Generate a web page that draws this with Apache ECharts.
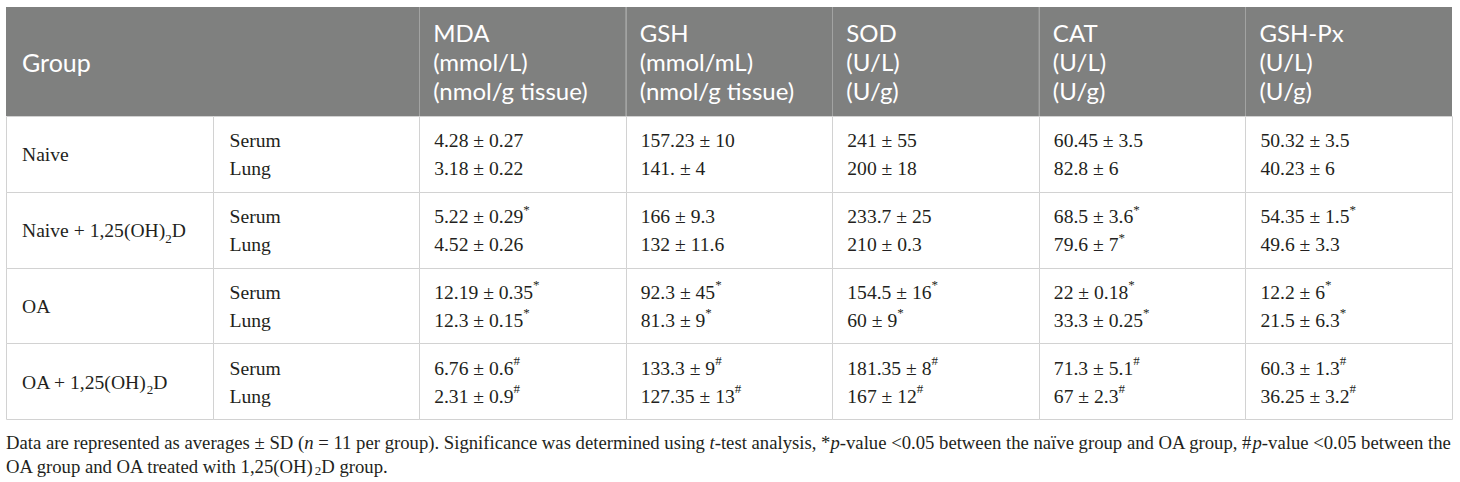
<!DOCTYPE html>
<html>
<head>
<meta charset="utf-8">
<script src="https://cdn.jsdelivr.net/npm/echarts@6/dist/echarts.min.js"></script>
<style>
  html, body { margin: 0; padding: 0; background: #fff; }
  #chart { width: 1460px; height: 482px; }
</style>
</head>
<body>
<div id="chart"></div>
<script>
// table content
const groups = ['Naive', 'Naive + 1,25(OH)2D', 'OA', 'OA + 1,25(OH)2D'];
const samples = ['Serum', 'Lung'];
const markers = ['MDA', 'GSH', 'SOD', 'CAT', 'GSH-Px'];
const serumUnits = ['(mmol/L)', '(mmol/mL)', '(U/L)', '(U/L)', '(U/L)'];
const lungUnits = ['(nmol/g tissue)', '(nmol/g tissue)', '(U/g)', '(U/g)', '(U/g)'];

// per group: serum, lung (mean ± SD, trailing * or # = significance)
const mdaValues = ['4.28 ± 0.27', '3.18 ± 0.22', '5.22 ± 0.29*', '4.52 ± 0.26', '12.19 ± 0.35*', '12.3 ± 0.15*', '6.76 ± 0.6#', '2.31 ± 0.9#'];
const gshValues = ['157.23 ± 10', '141. ± 4', '166 ± 9.3', '132 ± 11.6', '92.3 ± 45*', '81.3 ± 9*', '133.3 ± 9#', '127.35 ± 13#'];
const sodValues = ['241 ± 55', '200 ± 18', '233.7 ± 25', '210 ± 0.3', '154.5 ± 16*', '60 ± 9*', '181.35 ± 8#', '167 ± 12#'];
const catValues = ['60.45 ± 3.5', '82.8 ± 6', '68.5 ± 3.6*', '79.6 ± 7*', '22 ± 0.18*', '33.3 ± 0.25*', '71.3 ± 5.1#', '67 ± 2.3#'];
const gshPxValues = ['50.32 ± 3.5', '40.23 ± 6', '54.35 ± 1.5*', '49.6 ± 3.3', '12.2 ± 6*', '21.5 ± 6.3*', '60.3 ± 1.3#', '36.25 ± 3.2#'];

const footnoteLines = [
  'Data are represented as averages ± SD ({i|n} = 11 per group). Significance was determined using {i|t}-test analysis, *{i|p}-value <0.05 between the naïve group and OA group, #{i|p}-value <0.05 between the',
  'OA group and OA treated with 1,25(OH)2D group.'
];

const valueColumns = [mdaValues, gshValues, sodValues, catValues, gshPxValues];

const SERIF = '"Liberation Serif", "Times New Roman", serif';
const SANS = 'Lato, "Open Sans", sans-serif';
const TEXT_COLOR = '#231f20';
const HEAD_BG = '#7f807f';
const LINE_COLOR = '#d2d2d2';

// turn "(OH)2D" into a subscript and a trailing */# into a superscript
function markup(s) {
  return s.replace(/\(OH\)2D/g, '(OH){sub|2}D').replace(/([*#])$/, '{sup|$1}');
}

const serifRich = {
  sup: { fontFamily: SERIF, fontSize: 13, fill: TEXT_COLOR, verticalAlign: 'top', lineHeight: 20 },
  sub: { fontFamily: SERIF, fontSize: 13, fill: TEXT_COLOR, verticalAlign: 'bottom', lineHeight: 20 },
  i: { fontFamily: SERIF, fontSize: 18.7, fontStyle: 'italic', fill: TEXT_COLOR }
};

// header cells: [x0, x1, text]
const headCells = [[0, 2, 'Group']];
markers.forEach((m, k) => {
  headCells.push([k + 2, k + 3, [m, serumUnits[k], lungUnits[k]].join('\n')]);
});

// body cells: [col, row, text]
const bodyCells = [];
groups.forEach((g, r) => {
  bodyCells.push([0, r, markup(g)]);
  bodyCells.push([1, r, samples.join('\n')]);
  valueColumns.forEach((vals, k) => {
    bodyCells.push([k + 2, r, markup(vals[2 * r]) + '\n' + markup(vals[2 * r + 1])]);
  });
});

const crisp = (v) => Math.round(v) + 0.5;

const chart = echarts.init(document.getElementById('chart'), null, { renderer: 'svg' });

chart.setOption({
  animation: false,
  grid: [
    { left: 6, right: 8, top: 7, height: 109 },
    { left: 6, right: 8, top: 116, height: 303 }
  ],
  xAxis: [
    { gridIndex: 0, type: 'value', min: 0, max: 7, show: false },
    { gridIndex: 1, type: 'value', min: 0, max: 7, show: false }
  ],
  yAxis: [
    { gridIndex: 0, type: 'value', min: 0, max: 1, inverse: true, show: false },
    { gridIndex: 1, type: 'value', min: 0, max: 4, inverse: true, show: false }
  ],
  series: [
    {
      type: 'custom',
      xAxisIndex: 0,
      yAxisIndex: 0,
      data: headCells.map((c) => [c[0], c[1]]),
      renderItem: (params, api) => {
        const cell = headCells[params.dataIndex];
        const p0 = api.coord([cell[0], 0]);
        const p1 = api.coord([cell[1], 1]);
        const children = [
          {
            type: 'rect',
            shape: { x: p0[0], y: p0[1], width: p1[0] - p0[0], height: p1[1] - p0[1] },
            style: { fill: HEAD_BG }
          },
          {
            type: 'text',
            style: {
              text: cell[2],
              x: p0[0] + (cell[0] === 0 ? 16 : 14),
              y: (p0[1] + p1[1]) / 2,
              align: 'left',
              verticalAlign: 'middle',
              fontFamily: SANS,
              fontSize: cell[0] === 0 ? 25 : 24,
              lineHeight: 29,
              fill: '#ffffff'
            }
          }
        ];
        if (cell[0] > 0) {
          children.push({
            type: 'line',
            shape: { x1: crisp(p0[0]), y1: p0[1], x2: crisp(p0[0]), y2: p1[1] },
            style: { stroke: '#a2a3a2', lineWidth: 1 }
          });
        }
        return { type: 'group', children };
      }
    },
    {
      type: 'custom',
      xAxisIndex: 1,
      yAxisIndex: 1,
      data: bodyCells.map((c) => [c[0], c[1]]),
      renderItem: (params, api) => {
        const cell = bodyCells[params.dataIndex];
        const p0 = api.coord([cell[0], cell[1]]);
        const p1 = api.coord([cell[0] + 1, cell[1] + 1]);
        const pad = cell[0] === 0 ? 16 : cell[0] === 1 ? 17 : 15;
        return {
          type: 'group',
          children: [
            {
              type: 'rect',
              shape: {
                x: crisp(p0[0]), y: crisp(p0[1]),
                width: Math.round(p1[0]) - Math.round(p0[0]),
                height: Math.round(p1[1]) - Math.round(p0[1])
              },
              style: { fill: '#ffffff', stroke: LINE_COLOR, lineWidth: 1 }
            },
            {
              type: 'text',
              style: {
                text: cell[2],
                x: p0[0] + pad,
                y: (p0[1] + p1[1]) / 2 + 1,
                align: 'left',
                verticalAlign: 'middle',
                fontFamily: SERIF,
                fontSize: 19.6,
                lineHeight: 28,
                fill: TEXT_COLOR,
                rich: serifRich
              }
            }
          ]
        };
      }
    }
  ],
  graphic: footnoteLines.map((line, k) => ({
    type: 'text',
    x: 6,
    y: 442 + k * 24,
    style: {
      text: markup(line),
      align: 'left',
      verticalAlign: 'middle',
      fontFamily: SERIF,
      fontSize: 18.7,
      lineHeight: 22,
      fill: TEXT_COLOR,
      rich: serifRich
    }
  }))
});
</script>
</body>
</html>
